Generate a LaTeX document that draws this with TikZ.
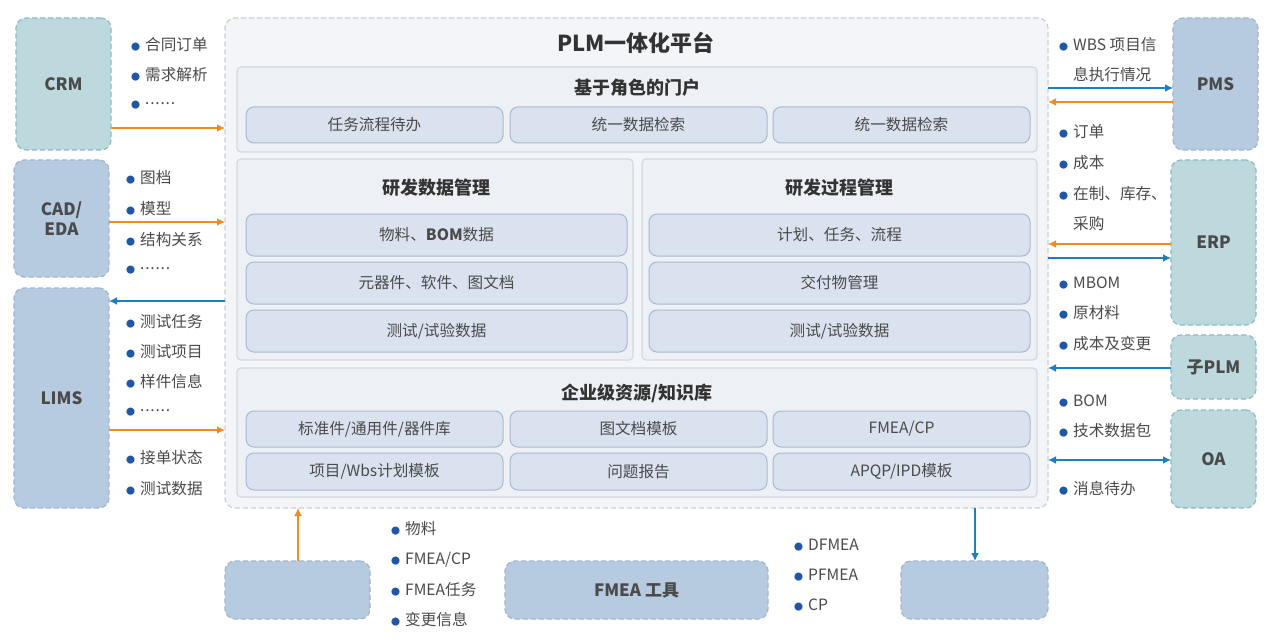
\documentclass[tikz,border=0pt]{standalone}
\usepackage{fontspec}
\setmainfont{Noto Sans CJK SC}
\usetikzlibrary{arrows.meta}
\definecolor{teal}{HTML}{BDD9DE}
\definecolor{tealb}{HTML}{8DBAC4}
\definecolor{bluef}{HTML}{B7CBE0}
\definecolor{blueb}{HTML}{9FB6D0}
\definecolor{platf}{HTML}{F3F5F9}
\definecolor{platb}{HTML}{C9CED8}
\definecolor{secf}{HTML}{EDF0F5}
\definecolor{secb}{HTML}{D3D8E1}
\definecolor{itf}{HTML}{D9E2EE}
\definecolor{itb}{HTML}{A8BAD2}
\definecolor{org}{HTML}{F08C1E}
\definecolor{arb}{HTML}{1C7FC6}
\definecolor{dot}{HTML}{1F56A6}
\definecolor{txt}{HTML}{4A4A4A}
\newcommand\bx[7]{\node[#6, minimum width={(#4-#2)*0.5pt}, minimum height={(#5-#3)*0.5pt}] (#1) at ({(#2+#4)/2},{(#3+#5)/2}) {#7};}
\newcommand\bl[4]{\node[bul] (#1) at (#2,#3) {\textcolor{dot}{\fontsize{4.5pt}{5pt}\selectfont●}\,\,#4};}
\newcommand\nb[4]{\node[bul] (#1) at (#2,#3) {\phantom{\fontsize{4.5pt}{5pt}\selectfont●}\,\,#4};}
\newcommand\dts{\raisebox{0.25em}{.\kern0.4pt.\kern0.4pt.\kern0.4pt.\kern0.4pt.\kern0.4pt.}}
\tikzset{
  base/.style={inner sep=0pt, outer sep=0pt, align=center, text=txt},
  ext/.style={base, draw, rounded corners=5pt, line width=0.6pt, dash pattern=on 2.5pt off 1.5pt, font=\fontsize{8.5pt}{10pt}\selectfont\bfseries},
  tl/.style={ext, fill=teal, draw=tealb},
  bu/.style={ext, fill=bluef, draw=blueb},
  plat/.style={base, fill=platf, draw=platb, rounded corners=5pt, line width=0.6pt, dash pattern=on 2.5pt off 1.5pt},
  sec/.style={base, fill=secf, draw=secb, rounded corners=2pt, line width=0.6pt},
  it/.style={base, fill=itf, draw=itb, rounded corners=4pt, line width=0.5pt, font=\fontsize{7.8pt}{9pt}\selectfont},
  ttl/.style={base, font=\fontsize{9pt}{10pt}\selectfont\bfseries, text=black!80},
  bul/.style={base, anchor=west, font=\fontsize{7.8pt}{9pt}\selectfont},
  ao/.style={draw=org, line width=1.1pt, -{Latex[length=4pt,width=4pt]}},
  ab/.style={draw=arb, line width=1.1pt, -{Latex[length=4pt,width=4pt]}},
  abb/.style={draw=arb, line width=1.1pt, {Latex[length=4pt,width=4pt]}-{Latex[length=4pt,width=4pt]}},
}
\begin{document}
\begin{tikzpicture}[x=0.5pt,y=-0.5pt]
\path[use as bounding box] (0,0) rectangle (1280,642);
\fill[white] (0,0) rectangle (1280,642);
% externals
\bx{crm}{16}{18}{111}{150}{tl}{CRM}
\bx{cad}{14}{160}{109}{277}{bu}{CAD/\\EDA}
\bx{lims}{14}{288}{109}{508}{bu}{LIMS}
\bx{pms}{1173}{18}{1258}{150}{bu}{PMS}
\bx{erp}{1171}{160}{1256}{325}{tl}{ERP}
\bx{subplm}{1171}{335}{1256}{399}{tl}{子PLM}
\bx{oa}{1171}{410}{1256}{508}{tl}{OA}
\bx{bl}{225}{561}{370}{619}{bu}{}
\bx{fmea}{505}{561}{768}{619}{bu}{FMEA 工具}
\bx{br}{901}{561}{1048}{619}{bu}{}
% platform
\bx{plat}{225}{18}{1048}{508}{plat}{}
\node[ttl, font=\fontsize{11pt}{12pt}\selectfont\bfseries] (ptitle) at (636,43) {PLM一体化平台};
\bx{portal}{237}{67}{1037}{152}{sec}{}
\node[ttl] (portalt) at (637,88) {基于角色的门户};
\bx{p1}{246}{107}{503}{143}{it}{任务流程待办}
\bx{p2}{510}{107}{767}{143}{it}{统一数据检索}
\bx{p3}{773}{107}{1030}{143}{it}{统一数据检索}
\bx{rdd}{237}{159}{633}{360}{sec}{}
\node[ttl] (rddt) at (436,188) {研发数据管理};
\bx{d1}{246}{214}{627}{256}{it}{物料、\textbf{BOM}数据}
\bx{d2}{246}{262}{627}{304}{it}{元器件、软件、图文档}
\bx{d3}{246}{310}{627}{352}{it}{测试/试验数据}
\bx{rdp}{642}{159}{1037}{360}{sec}{}
\node[ttl] (rdpt) at (839,188) {研发过程管理};
\bx{q1}{649}{214}{1030}{256}{it}{计划、任务、流程}
\bx{q2}{649}{262}{1030}{304}{it}{交付物管理}
\bx{q3}{649}{310}{1030}{352}{it}{测试/试验数据}
\bx{ent}{237}{368}{1037}{497}{sec}{}
\node[ttl] (entt) at (637,393) {企业级资源/知识库};
\bx{e1}{246}{411}{503}{447}{it}{标准件/通用件/器件库}
\bx{e2}{510}{411}{767}{447}{it}{图文档模板}
\bx{e3}{773}{411}{1030}{447}{it}{FMEA/CP}
\bx{e4}{246}{453}{503}{490}{it}{项目/Wbs计划模板}
\bx{e5}{510}{453}{767}{490}{it}{问题报告}
\bx{e6}{773}{453}{1030}{490}{it}{APQP/IPD模板}
% arrows
\draw[ao] (crm.east |- 0,128) -- (plat.west |- 0,128);
\draw[ao] (cad.east |- 0,222) -- (plat.west |- 0,222);
\draw[ab] (plat.west |- 0,301) -- (lims.east |- 0,301);
\draw[ao] (lims.east |- 0,430) -- (plat.west |- 0,430);
\draw[ab] (plat.east |- 0,88) -- (pms.west |- 0,88);
\draw[ao] (pms.west |- 0,102) -- (plat.east |- 0,102);
\draw[ao] (erp.west |- 0,244) -- (plat.east |- 0,244);
\draw[ab] (plat.east |- 0,258) -- (erp.west |- 0,258);
\draw[ab] (subplm.west |- 0,368) -- (plat.east |- 0,368);
\draw[abb] (plat.east |- 0,460) -- (oa.west |- 0,460);
\draw[ao] (bl.north -| 298,0) -- (plat.south -| 298,0);
\draw[ab] (plat.south -| 975,0) -- (br.north -| 975,0);
% bullets left
\bl{c1}{131}{45}{合同订单}
\bl{c2}{131}{75}{需求解析}
\bl{c3}{131}{105}{\dts}
\bl{a1}{126}{178}{图档}
\bl{a2}{126}{209}{模型}
\bl{a3}{126}{240}{结构关系}
\bl{a4}{126}{270}{\dts}
\bl{l1}{126}{322}{测试任务}
\bl{l2}{126}{352}{测试项目}
\bl{l3}{126}{382}{样件信息}
\bl{l4}{126}{412}{\dts}
\bl{l5}{126}{458}{接单状态}
\bl{l6}{126}{489}{测试数据}
% bullets right
\bl{r1}{1059}{45}{WBS 项目信}
\nb{r2}{1059}{75}{息执行情况}
\bl{r3}{1059}{132}{订单}
\bl{r4}{1059}{163}{成本}
\bl{r5}{1059}{194}{在制、库存、}
\nb{r6}{1059}{224}{采购}
\bl{r7}{1059}{283}{MBOM}
\bl{r8}{1059}{313}{原材料}
\bl{r9}{1059}{344}{成本及变更}
\bl{r10}{1059}{401}{BOM}
\bl{r11}{1059}{431}{技术数据包}
\bl{r12}{1059}{489}{消息待办}
% bottom bullets
\bl{m1}{391}{529}{物料}
\bl{m2}{391}{560}{FMEA/CP}
\bl{m3}{391}{590}{FMEA任务}
\bl{m4}{391}{620}{变更信息}
\bl{n1}{794}{545}{DFMEA}
\bl{n2}{794}{575}{PFMEA}
\bl{n3}{794}{605}{CP}
\end{tikzpicture}
\end{document}
